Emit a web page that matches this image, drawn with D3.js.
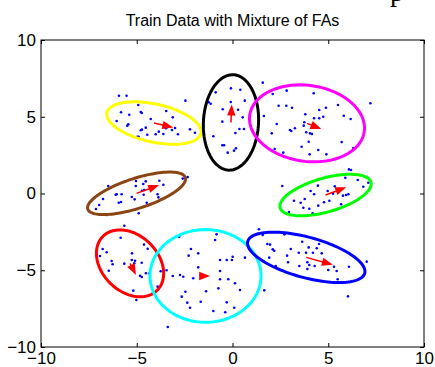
<!DOCTYPE html>
<html>
<head>
<meta charset="utf-8">
<script src="https://cdn.jsdelivr.net/npm/d3@7"></script>
<style>
  body { margin: 0; background: #fff; }
  svg { display: block; }
  .axis text { font-family: "Liberation Sans", Arial, sans-serif; font-size: 17px; fill: #000; }
  .axis line { stroke: #000; }
</style>
</head>
<body>
<svg id="chart" width="435" height="367"></svg>
<script>
// mixture components (data units)
var compNames = ['yellow', 'black', 'magenta', 'green', 'brown', 'red', 'cyan', 'blue'];
var centers = [[-4.10, 4.59], [-0.08, 4.63], [3.89, 4.57], [4.86, -0.10], [-5.01, 0.01], [-5.35, -4.55], [-1.41, -5.37], [3.85, -4.16]];
var semiAxes = [[2.55, 1.22], [3.11, 1.44], [3.05, 2.45], [2.52, 1.08], [2.75, 0.95], [2.31, 1.58], [3.02, 2.90], [3.23, 1.29]];
var angles = [-17, 88, -17, 21, 23, -63, 90, -20];
var arrows = [[1.01, -0.29], [0.04, 1.17], [0.75, -0.37], [1.08, 0.50], [1.18, 0.54], [0.31, -0.76], [0.24, 0.0], [1.39, -0.48]];

var yellowPts = [[-5.93,6.37],[-5.53,6.37],[-2.46,6.05],[-4.92,5.77],[-5.82,5.29],[-5.39,5.13],[-4.79,5.31],[-4.74,5.24],[-3.46,5.37],[-3.12,4.96],[-4.27,4.85],[-6.05,4.72],[-5.44,4.51],[-5.49,4.42],[-4.53,4.29],[-4.79,4.12],[-4.73,4.16],[-3.85,4.03],[-4.01,3.86],[-3.61,3.88],[-3.47,4.25],[-3.16,4.14],[-3.0,4.27],[-2.85,3.86],[-2.22,4.18],[-1.96,3.96],[-4.97,3.70],[-4.90,3.70],[-4.45,3.83]];
var blackPts = [[1.58,7.22],[-0.88,6.59],[-0.08,6.85],[0.41,6.76],[-1.24,5.94],[-1.14,5.85],[-0.09,5.96],[0.64,6.05],[-0.51,5.49],[0.29,5.46],[0.53,4.96],[-0.53,4.68],[0.15,3.94],[0.36,4.20],[0.60,4.20],[-1.0,3.73],[-0.53,3.14],[-0.44,3.14],[0.18,2.94],[0.08,2.79],[-0.25,2.66],[1.64,5.05]];
var magentaPts = [[2.10,6.48],[2.83,6.70],[4.24,6.53],[2.41,5.72],[2.81,5.72],[3.11,5.59],[4.53,5.44],[4.88,5.59],[5.51,5.77],[7.20,5.88],[2.31,4.53],[3.0,4.14],[3.07,4.07],[3.26,4.25],[3.75,4.64],[3.80,5.16],[3.72,4.42],[4.26,4.90],[4.53,4.90],[4.74,5.0],[5.81,5.07],[6.17,4.85],[3.85,3.99],[4.05,3.92],[4.15,3.88],[2.05,3.92],[3.98,3.37],[3.61,3.05],[5.70,3.35],[6.31,2.96],[2.20,2.90],[2.65,2.66],[4.03,2.55],[4.48,2.83],[4.90,2.55]];
var greenPts = [[6.08,1.57],[6.19,1.53],[2.60,0.49],[4.46,0.51],[5.89,1.02],[6.54,0.88],[4.08,0.16],[4.26,-0.05],[3.77,-0.36],[4.97,0.16],[5.34,0.47],[5.25,-0.01],[5.55,0.23],[5.77,-0.14],[5.93,-0.10],[6.05,-0.05],[7.09,0.70],[6.83,0.44],[3.21,-0.47],[3.56,-0.60],[4.01,-0.99],[4.48,-0.79],[4.78,-0.57],[5.06,-0.47],[5.67,-0.70],[2.95,-1.21],[3.70,-0.93],[4.19,-1.29]];
var brownPts = [[-2.34,1.07],[-2.60,0.97],[-6.49,0.49],[-5.04,0.81],[-4.66,0.62],[-4.53,0.79],[-3.82,0.83],[-3.61,0.57],[-5.05,0.49],[-6.10,-0.08],[-6.05,-0.05],[-5.79,-0.05],[-5.26,-0.23],[-5.11,-0.38],[-4.73,0.18],[-4.61,0.23],[-4.64,-0.08],[-3.91,-0.05],[-3.87,-0.25],[-5.82,-0.55],[-5.94,-0.60],[-6.76,-0.36],[-6.96,-0.75],[-7.13,-1.01],[-4.48,-0.60],[-6.57,-1.40],[-4.90,-1.29]];
var redPts = [[-5.65,-2.10],[-5.84,-2.88],[-6.78,-3.62],[-6.57,-3.83],[-6.92,-4.07],[-4.62,-3.33],[-4.43,-3.60],[-5.25,-3.90],[-6.31,-4.40],[-6.26,-4.61],[-5.65,-4.57],[-5.26,-4.33],[-5.09,-4.38],[-5.13,-4.55],[-4.74,-4.51],[-6.46,-5.03],[-4.83,-5.36],[-4.74,-5.44],[-4.52,-5.20],[-4.34,-5.20],[-5.18,-6.33],[-5.02,-6.94]];
var cyanPts = [[-2.78,-2.81],[-0.83,-2.66],[-0.91,-3.03],[-2.17,-3.62],[-1.79,-3.90],[-2.29,-4.05],[-0.65,-4.33],[-0.30,-4.33],[-0.03,-4.33],[0.01,-4.12],[0.65,-4.18],[-1.79,-4.81],[-0.65,-5.05],[-3.75,-5.07],[-3.44,-5.00],[-3.12,-5.37],[-2.74,-5.31],[-2.57,-5.42],[-2.05,-5.52],[-0.65,-5.59],[-0.22,-5.59],[0.13,-5.85],[0.39,-6.29],[-1.38,-6.37],[-0.74,-6.18],[-3.91,-6.07],[-2.65,-6.72],[-2.46,-6.40],[-2.36,-7.11],[-2.22,-7.44],[-1.66,-7.05],[-1.0,-7.65],[-0.38,-7.74],[-0.30,-7.09],[0.09,-7.44],[-3.38,-8.70],[1.66,-6.31]];
var bluePts = [[1.38,-2.33],[1.58,-2.70],[2.71,-2.66],[1.82,-3.29],[1.96,-3.33],[2.10,-3.64],[2.18,-3.73],[3.64,-3.14],[3.98,-3.51],[4.40,-3.57],[4.52,-3.29],[3.04,-3.62],[3.46,-3.86],[3.84,-3.86],[4.20,-3.86],[4.66,-3.90],[2.85,-4.05],[1.92,-4.18],[2.90,-4.48],[3.91,-4.48],[4.01,-4.66],[4.29,-4.72],[3.49,-4.72],[3.91,-4.92],[5.00,-4.98],[5.30,-4.77],[5.44,-5.05],[6.08,-4.77],[7.01,-4.44],[5.49,-5.59],[6.03,-6.70],[2.26,-4.72]];

var tickVals = [-10, -5, 0, 5, 10];
var title = 'Train Data with Mixture of FAs';

var colors = ['#ffff00', '#000000', '#ff00ff', '#00ff00', '#8b4513', '#ff0000', '#00ffff', '#0000ff'];

var svg = d3.select('#chart');
var x = d3.scaleLinear().domain([-10, 10]).range([41, 424]);
var y = d3.scaleLinear().domain([-10, 10]).range([347, 40]);

// stray glyph from surrounding page, only its lower part shows
svg.append('text')
  .attr('x', 390).attr('y', 1)
  .style('font-family', '"Liberation Serif", "Times New Roman", serif')
  .style('font-size', '28px')
  .text('p');

svg.append('text')
  .attr('x', 232.5).attr('y', 26)
  .attr('text-anchor', 'middle')
  .style('font-family', '"Liberation Sans", Arial, sans-serif')
  .style('font-size', '16px')
  .text(title);

// axes, MATLAB style inward ticks
svg.append('g').attr('class', 'axis')
  .attr('transform', 'translate(0,347)')
  .call(d3.axisBottom(x).tickValues(tickVals).tickSizeInner(-4).tickSizeOuter(0).tickPadding(5))
  .call(g => g.select('.domain').remove());
svg.append('g').attr('class', 'axis')
  .attr('transform', 'translate(0,40)')
  .call(d3.axisTop(x).tickValues(tickVals).tickSizeInner(-4).tickSizeOuter(0).tickFormat(''))
  .call(g => g.select('.domain').remove());
svg.append('g').attr('class', 'axis')
  .attr('transform', 'translate(41,0)')
  .call(d3.axisLeft(y).tickValues(tickVals).tickSizeInner(-4).tickSizeOuter(0).tickPadding(5))
  .call(g => g.select('.domain').remove());
svg.append('g').attr('class', 'axis')
  .attr('transform', 'translate(424,0)')
  .call(d3.axisRight(y).tickValues(tickVals).tickSizeInner(-4).tickSizeOuter(0).tickFormat(''))
  .call(g => g.select('.domain').remove());

svg.append('rect')
  .attr('x', x(-10)).attr('y', y(10))
  .attr('width', x(10) - x(-10)).attr('height', y(-10) - y(10))
  .attr('fill', 'none').attr('stroke', '#000').attr('stroke-width', 1);

var allPts = [].concat(yellowPts, blackPts, magentaPts, greenPts, brownPts, redPts, cyanPts, bluePts);

svg.append('g').selectAll('circle')
  .data(allPts)
  .enter().append('circle')
  .attr('cx', d => x(d[0]))
  .attr('cy', d => y(d[1]))
  .attr('r', 1.3)
  .style('fill', '#0000ff');

var line = d3.line().x(d => x(d[0])).y(d => y(d[1])).curve(d3.curveLinearClosed);

compNames.forEach((name, i) => {
  var c = centers[i], a = semiAxes[i][0], b = semiAxes[i][1];
  var th = angles[i] * Math.PI / 180;
  var pts = d3.range(0, 360, 3).map(deg => {
    var t = deg * Math.PI / 180;
    return [c[0] + a * Math.cos(t) * Math.cos(th) - b * Math.sin(t) * Math.sin(th),
            c[1] + a * Math.cos(t) * Math.sin(th) + b * Math.sin(t) * Math.cos(th)];
  });
  svg.append('path')
    .attr('class', 'ell ' + name)
    .attr('d', line(pts))
    .attr('fill', 'none')
    .attr('stroke', colors[i])
    .attr('stroke-width', 3);
});

// arrows from each centre
compNames.forEach((name, i) => {
  var c = centers[i], v = arrows[i];
  var x0 = x(c[0]), y0 = y(c[1]);
  var x1 = x(c[0] + v[0]), y1 = y(c[1] + v[1]);
  var len = Math.hypot(x1 - x0, y1 - y0);
  var ux = (x1 - x0) / len, uy = (y1 - y0) / len;
  var hl = 11, hw = 4.2;
  svg.append('line')
    .attr('x1', x0).attr('y1', y0).attr('x2', x1 - ux * 4).attr('y2', y1 - uy * 4)
    .attr('stroke', '#ff0000').attr('stroke-width', 1.5);
  var bx = x1 - ux * hl, by = y1 - uy * hl;
  svg.append('path')
    .attr('d', 'M' + x1 + ',' + y1 + 'L' + (bx - uy * hw) + ',' + (by + ux * hw) + 'L' + (bx + uy * hw) + ',' + (by - ux * hw) + 'Z')
    .attr('fill', '#ff0000');
});
</script>
</body>
</html>
